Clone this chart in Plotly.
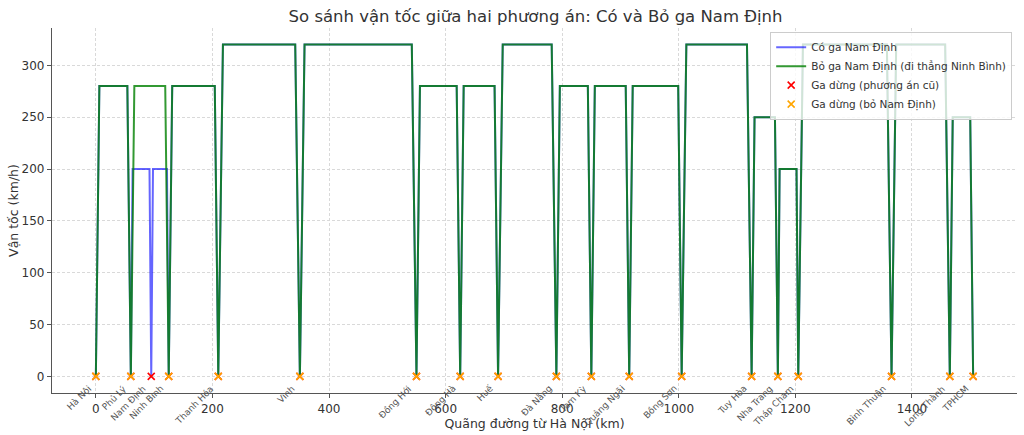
import plotly.graph_objects as go

# ga và km (phương án cũ, có Nam Định)
STATIONS_OLD = ["Hà Nội", "Phủ Lý", "Nam Định", "Ninh Bình", "Thanh Hóa", "Vinh",
                "Đồng Hới", "Đông Hà", "Huế", "Đà Nẵng", "Tam Kỳ", "Quảng Ngãi",
                "Bồng Sơn", "Tuy Hòa", "Nha Trang", "Tháp Chàm", "Bình Thuận",
                "Long Thành", "TPHCM"]
KM_OLD = [0, 60, 95, 125, 210, 350, 550, 625, 690, 790, 850, 915,
          1005, 1125, 1170, 1205, 1365, 1465, 1505]
SPEED_OLD = [280, 200, 200, 280, 320, 320, 280, 280, 320, 280, 280,
             280, 320, 250, 200, 320, 320, 250]

# phương án mới: bỏ Nam Định
STATIONS_NEW = [s for s in STATIONS_OLD if s != "Nam Định"]
KM_NEW = [0, 60, 125, 210, 350, 550, 625, 690, 790, 850, 915,
          1005, 1125, 1170, 1205, 1365, 1465, 1505]
SPEED_NEW = [280, 280, 280, 320, 320, 280, 280, 320, 280, 280,
             280, 320, 250, 200, 320, 320, 250]

# quãng đường tăng/giảm tốc (km) theo vận tốc
RAMP_KM = {200: 3, 250: 5, 280: 6, 320: 8}


def profile(km, speeds):
    xs, ys = [], []
    for i, v in enumerate(speeds):
        a, b = km[i], km[i + 1]
        r = RAMP_KM[v]
        xs += [a, a + r, b - r, b]
        ys += [0, v, v, 0]
    return xs, ys


x_old, y_old = profile(KM_OLD, SPEED_OLD)
x_new, y_new = profile(KM_NEW, SPEED_NEW)

fig = go.Figure()
fig.add_trace(go.Scatter(x=x_old, y=y_old, mode="lines", name="Có ga Nam Định",
                         line=dict(color="blue", width=2), opacity=0.6))
fig.add_trace(go.Scatter(x=x_new, y=y_new, mode="lines",
                         name="Bỏ ga Nam Định (đi thẳng Ninh Bình)",
                         line=dict(color="green", width=2), opacity=0.8))
fig.add_trace(go.Scatter(x=KM_OLD, y=[0] * len(KM_OLD), mode="markers",
                         name="Ga dừng (phương án cũ)",
                         marker=dict(symbol="x-thin", size=7, color="red",
                                     line=dict(width=1.6, color="red"))))
fig.add_trace(go.Scatter(x=KM_NEW, y=[0] * len(KM_NEW), mode="markers",
                         name="Ga dừng (bỏ Nam Định)",
                         marker=dict(symbol="x-thin", size=7, color="orange",
                                     line=dict(width=1.6, color="orange"))))

# nhãn tên ga nghiêng
for name, k in zip(STATIONS_OLD, KM_OLD):
    fig.add_annotation(x=k, y=-4, text=name, showarrow=False, textangle=-45,
                       xanchor="right", yanchor="top",
                       font=dict(size=9, color="#555555"))

xmax = max(KM_OLD)
fig.update_layout(
    width=1024, height=435,
    margin=dict(l=52, r=7, t=28, b=42),
    plot_bgcolor="white", paper_bgcolor="white",
    font=dict(family="DejaVu Sans", color="#333333", size=12),
    title=dict(text="So sánh vận tốc giữa hai phương án: Có và Bỏ ga Nam Định",
               x=0.523, xanchor="center", y=0.963, yanchor="middle",
               font=dict(size=16.5, color="#333333")),
    legend=dict(x=0.995, y=0.99, xanchor="right", yanchor="top",
                bgcolor="rgba(255,255,255,0.8)", bordercolor="#cccccc",
                borderwidth=1, font=dict(size=10.5), tracegroupgap=0,
                itemwidth=30),
    showlegend=True,
)
fig.update_xaxes(range=[-0.05 * xmax, 1.05 * xmax], tickvals=[0, 200, 400, 600, 800, 1000, 1200, 1400],
                 showgrid=True, gridcolor="#d9d9d9", griddash="3px,2px", gridwidth=0.8,
                 showline=True, linecolor="#555555", linewidth=1.2,
                 ticks="outside", ticklen=4, tickcolor="#555555",
                 zeroline=False, automargin=False,
                 title=dict(text="Quãng đường từ Hà Nội (km)", standoff=4,
                            font=dict(size=12.5)))
fig.update_yaxes(range=[-16, 336], tickvals=[0, 50, 100, 150, 200, 250, 300],
                 showgrid=True, gridcolor="#d9d9d9", griddash="3px,2px", gridwidth=0.8,
                 showline=True, linecolor="#555555", linewidth=1.2,
                 ticks="outside", ticklen=4, tickcolor="#555555",
                 zeroline=False, automargin=False,
                 title=dict(text="Vận tốc (km/h)", standoff=0,
                            font=dict(size=12.5)))

# bỏ lề mặc định của trang, tắt thanh công cụ
fig.write_html("out.html", config={"displayModeBar": False},
               post_script="document.body.style.margin='0';")
